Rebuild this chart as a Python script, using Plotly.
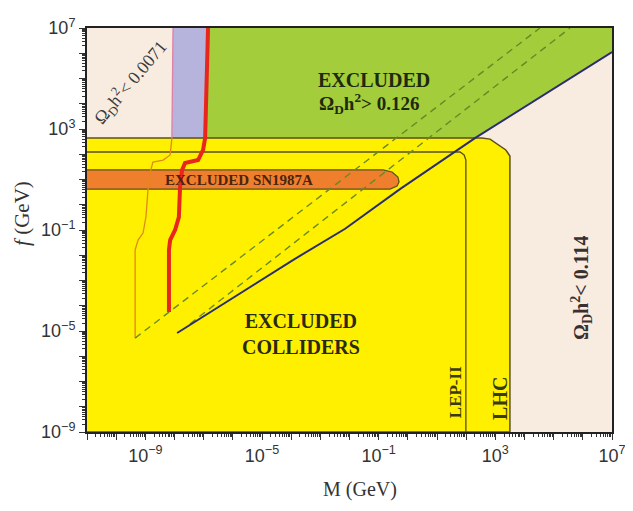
import numpy as np
import plotly.graph_objects as go

# ---- axis ranges (log10 of GeV) ----
x_range = [-11, 7]
y_range = [-9, 7]
x_tick_exps = [-9, -5, -1, 3, 7]
y_tick_exps = [-9, -5, -1, 3, 7]

# ---- contours (log10 M, log10 f) ----
# thin Omega_D h^2 = 0.0071 contour
thin_logM = [-8.05, -8.09, -8.15, -8.39, -8.74, -8.84, -8.91, -8.98, -9.08, -9.25, -9.35, -9.35]
thin_logf = [7.0, 2.64, 1.97, 1.77, 1.69, 1.26, 0.58, -0.49, -1.12, -1.40, -1.79, -5.28]

# thick red contour
red_logM = [-6.85, -6.95, -7.02, -7.19, -7.64, -7.74, -7.81, -7.85, -7.98, -8.15, -8.19, -8.19]
red_logf = [7.0, 2.64, 2.17, 1.77, 1.65, 1.38, 0.70, -0.49, -1.00, -1.40, -1.79, -4.25]

# blue Omega_D h^2 = 0.126 / 0.114 boundary
blue_logM = [-7.91, -3.94, -2.15, -0.27, 2.30, 7.0]
blue_logf = [-5.08, -2.19, -0.95, 0.62, 2.64, 6.05]

# dashed lines
dashA_logM = [-9.35, 4.53]
dashA_logf = [-5.28, 7.0]
dashB_logM = [-7.47, 5.56]
dashB_logf = [-4.72, 7.0]

# colliders (LHC) excluded region
lhc_logM = [-11, 2.54, 2.82, 3.36, 3.50, 3.50, -11]
lhc_logf = [2.64, 2.64, 2.60, 2.17, 1.93, -9, -9]

# LEP-II contour
lep_logM = [-11, 1.79, 1.93, 1.99, 1.99]
lep_logf = [2.09, 2.09, 1.97, 1.77, -9]

# SN1987A band
sn_logM = [-11, -0.85, -0.54, -0.34, -0.30, -0.37, -0.61, -11]
sn_logf = [1.38, 1.38, 1.30, 1.10, 0.90, 0.74, 0.62, 0.62]

# ---- colours ----
BEIGE = "#f8ece0"
GREEN = "#a3cd3b"
LAVENDER = "#b6b4dc"
YELLOW = "#fff000"
ORANGE = "#ef7f2c"
RED = "#e8261c"
BLUE = "#2b2d6e"
OLIVE = "#5a4f1c"
DASH = "#668a26"

def v(a):
    return 10 ** np.array(a, dtype=float)

fig = go.Figure()

# green excluded region
green_M = red_logM[:2] + blue_logM[-2:] + [x_range[1]]
green_f = red_logf[:2] + blue_logf[-2:] + [y_range[1]]
fig.add_trace(go.Scatter(x=v(green_M), y=v(green_f), fill="toself", fillcolor=GREEN,
                         mode="lines", line=dict(width=0), hoverinfo="skip"))

# lavender band
lav_M = thin_logM[:2] + red_logM[:2][::-1]
lav_f = thin_logf[:2] + red_logf[:2][::-1]
fig.add_trace(go.Scatter(x=v(lav_M), y=v(lav_f), fill="toself", fillcolor=LAVENDER,
                         mode="lines", line=dict(width=0), hoverinfo="skip"))

# yellow colliders region
fig.add_trace(go.Scatter(x=v(lhc_logM), y=v(lhc_logf), fill="toself", fillcolor=YELLOW,
                         mode="lines", line=dict(color=OLIVE, width=1.5), hoverinfo="skip"))

# LEP-II line
fig.add_trace(go.Scatter(x=v(lep_logM), y=v(lep_logf), mode="lines",
                         line=dict(color=OLIVE, width=1.3), hoverinfo="skip"))

# SN1987A band
fig.add_trace(go.Scatter(x=v(sn_logM), y=v(sn_logf), fill="toself", fillcolor=ORANGE,
                         mode="lines", line=dict(color=OLIVE, width=1.2), hoverinfo="skip"))

# thin contour: pink above, orange below
fig.add_trace(go.Scatter(x=v(thin_logM[:2]), y=v(thin_logf[:2]), mode="lines",
                         line=dict(color="#e07fa8", width=1.3), hoverinfo="skip"))
fig.add_trace(go.Scatter(x=v(thin_logM[1:]), y=v(thin_logf[1:]), mode="lines",
                         line=dict(color="#e08a1a", width=1.3), hoverinfo="skip"))

# dashed lines
for mx, fy in [(dashA_logM, dashA_logf), (dashB_logM, dashB_logf)]:
    fig.add_trace(go.Scatter(x=v(mx), y=v(fy), mode="lines",
                             line=dict(color=DASH, width=1.4, dash="7px,5px"), hoverinfo="skip"))

# red thick contour
fig.add_trace(go.Scatter(x=v(red_logM), y=v(red_logf), mode="lines",
                         line=dict(color=RED, width=4), hoverinfo="skip"))

# blue line
fig.add_trace(go.Scatter(x=v(blue_logM), y=v(blue_logf), mode="lines",
                         line=dict(color=BLUE, width=2), hoverinfo="skip"))

def ticks(exps_all, labelled):
    vals = [10.0 ** e for e in exps_all]
    text = []
    for e in exps_all:
        if e in labelled:
            s = str(e).replace("-", "\u2212")
            text.append("10<sup>" + s + "</sup>")
        else:
            text.append("")
    return vals, text

def minor_vals(lo, hi):
    out = []
    for e in range(lo, hi):
        for d in range(2, 10):
            out.append(d * 10.0 ** e)
    return out

xv, xt = ticks(list(range(x_range[0], x_range[1] + 1)), x_tick_exps)
yv, yt = ticks(list(range(y_range[0], y_range[1] + 1)), y_tick_exps)

axis_common = dict(type="log", showgrid=False, zeroline=False, showline=True,
                   linecolor="#222222", linewidth=2, mirror=True, automargin=False,
                   ticks="outside", ticklen=6, tickwidth=1.2, tickcolor="#333333",
                   tickfont=dict(family="Liberation Sans", size=18, color="#333333"))

fig.update_xaxes(range=x_range, tickmode="array", tickvals=xv, ticktext=xt,
                 minor=dict(tickmode="array", tickvals=minor_vals(x_range[0], x_range[1]),
                            ticks="outside", ticklen=3, tickcolor="#333333", showgrid=False),
                 **axis_common)
fig.update_yaxes(range=y_range, tickmode="array", tickvals=yv, ticktext=yt,
                 minor=dict(tickmode="array", tickvals=minor_vals(y_range[0], y_range[1]),
                            ticks="outside", ticklen=3, tickcolor="#333333", showgrid=False),
                 **axis_common)

SERIF = "Liberation Serif"
ann = []
def A(text, x, y, size, color, angle=0, bold=True, ref="x"):
    t = "<b>" + text + "</b>" if bold else text
    ann.append(dict(text=t, x=x, y=y, xref="x" if ref == "x" else "paper",
                    yref="y" if ref == "x" else "paper", showarrow=False,
                    textangle=angle, font=dict(family=SERIF, size=size, color=color),
                    xanchor="center", yanchor="middle"))

A("EXCLUDED", -1.16, 4.94, 20, "#1e2a0e")
A("\u03a9<sub>D</sub>h<sup>2</sup>> 0.126", -1.33, 4.0, 19, "#1e2a0e")
A("EXCLUDED SN1987A", -5.79, 0.98, 15, "#4a2410")
A("EXCLUDED<br>COLLIDERS", -3.66, -5.12, 20, "#2a2a10")
A("\u03a9<sub>D</sub>h<sup>2</sup>< 0.0071", -9.53, 4.86, 18, "#3a3a3a", angle=-50, bold=False)
A("\u03a9<sub>D</sub>h<sup>2</sup>< 0.114", 5.97, -3.26, 20, "#3a3030", angle=-90)
A("LEP-II", 1.62, -7.42, 17, "#3a3a10", angle=-90)
A("LHC", 3.16, -7.69, 20, "#3a3a10", angle=-90)

# axis titles
A("M (GeV)", 0.52, -0.143, 20, "#333333", bold=False, ref="paper")
A("<i>f</i> (GeV)", -0.124, 0.542, 21, "#333333", angle=-90, bold=False, ref="paper")

# page body has an 8px default margin, so the figure is sized to fit inside the window
fig.update_layout(width=625, height=503, margin=dict(l=79, r=21, t=20, b=79),
                  plot_bgcolor=BEIGE, paper_bgcolor="white", showlegend=False,
                  annotations=ann)

fig.write_html("out.html")
